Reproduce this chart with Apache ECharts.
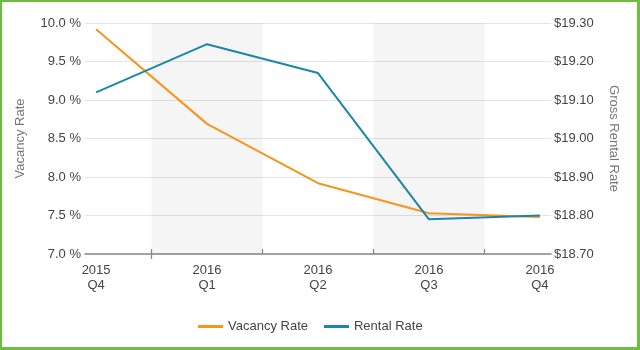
<!DOCTYPE html>
<html>
<head>
<meta charset="utf-8">
<script src="https://cdn.jsdelivr.net/npm/echarts@6/dist/echarts.min.js"></script>
<style>
html,body{margin:0;padding:0;background:#fff;}
#wrap{position:absolute;left:0;top:0;width:640px;height:350px;box-sizing:border-box;border:3px solid #6cbf3c;border-top-width:2px;border-left-width:2px;}
#chart{position:absolute;left:-2px;top:-2px;width:640px;height:350px;}
</style>
</head>
<body>
<div id="wrap"><div id="chart"></div></div>
<script>
const categories = ["2015\nQ4", "2016\nQ1", "2016\nQ2", "2016\nQ3", "2016\nQ4"];
const vacancyRate = [9.92, 8.69, 7.92, 7.53, 7.48];
const rentalRate = [19.12, 19.245, 19.17, 18.79, 18.80];
const leftTicks = [7.0, 7.5, 8.0, 8.5, 9.0, 9.5, 10.0];
const rightTicks = [18.70, 18.80, 18.90, 19.00, 19.10, 19.20, 19.30];
const shadedBands = [[0.5, 1.5], [2.5, 3.5]];

const font = 'Liberation Sans, Arial, sans-serif';
const chart = echarts.init(document.getElementById('chart'), null, {renderer: 'canvas'});
const idx = categories.map((c, i) => i);
chart.setOption({
  animation: false,
  textStyle: {fontFamily: font},
  grid: {left: 85, right: 89, top: 23, bottom: 96},
  legend: {
    left: 193, top: 315,
    icon: 'rect',
    itemWidth: 25, itemHeight: 3, itemGap: 16,
    textStyle: {fontSize: 13, color: '#444', fontFamily: font},
    data: ['Vacancy Rate', 'Rental Rate']
  },
  xAxis: [{
    type: 'value',
    min: -0.1, max: 4.1,
    axisLine: {show: true, lineStyle: {color: '#888', width: 1.5}},
    axisTick: {show: true, inside: true, length: 5, customValues: [0.5, 1.5, 2.5, 3.5], lineStyle: {color: '#888', width: 1.2}},
    axisLabel: {
      customValues: idx,
      formatter: v => categories[Math.round(v)],
      fontSize: 13, color: '#444', lineHeight: 15, margin: 9, fontFamily: font
    },
    splitLine: {show: false}
  }, {
    type: 'value',
    min: -0.1, max: 4.1,
    position: 'bottom',
    axisLine: {show: false},
    axisTick: {show: true, inside: false, length: 5, customValues: [0.5], lineStyle: {color: '#888', width: 1.2}},
    axisLabel: {show: false},
    splitLine: {show: false}
  }],
  yAxis: [{
    type: 'value',
    min: leftTicks[0], max: leftTicks[leftTicks.length - 1], interval: 0.5,
    name: 'Vacancy Rate', nameLocation: 'middle', nameGap: 58, nameRotate: 90,
    nameTextStyle: {color: '#777', fontSize: 13, fontFamily: font},
    axisLine: {show: false}, axisTick: {show: false},
    axisLabel: {formatter: v => v.toFixed(1) + ' %', fontSize: 13, color: '#444', margin: 4, fontFamily: font},
    splitLine: {lineStyle: {color: '#e4e4e4', width: 1}}
  }, {
    type: 'value',
    min: rightTicks[0], max: rightTicks[rightTicks.length - 1], interval: 0.1,
    name: 'Gross Rental Rate', nameLocation: 'middle', nameGap: 56, nameRotate: -90,
    nameTextStyle: {color: '#777', fontSize: 13, fontFamily: font},
    axisLine: {show: false}, axisTick: {show: false},
    axisLabel: {formatter: v => '$' + v.toFixed(2), fontSize: 13, color: '#444', margin: 3, fontFamily: font},
    splitLine: {show: false}
  }],
  series: [{
    name: 'Vacancy Rate', type: 'line', xAxisIndex: 0, yAxisIndex: 0,
    data: vacancyRate.map((v, i) => [i, v]),
    symbol: 'none', color: '#f7941d',
    lineStyle: {width: 2, color: '#f7941d'},
    markArea: {
      silent: true,
      itemStyle: {color: 'rgba(0,0,0,0.04)'},
      data: shadedBands.map(b => [{xAxis: b[0]}, {xAxis: b[1]}])
    },
    z: 3
  }, {
    name: 'Rental Rate', type: 'line', xAxisIndex: 0, yAxisIndex: 1,
    data: rentalRate.map((v, i) => [i, v]),
    symbol: 'none', color: '#1d86a6',
    lineStyle: {width: 2, color: '#1d86a6'},
    z: 3
  }]
});
</script>
</body>
</html>
